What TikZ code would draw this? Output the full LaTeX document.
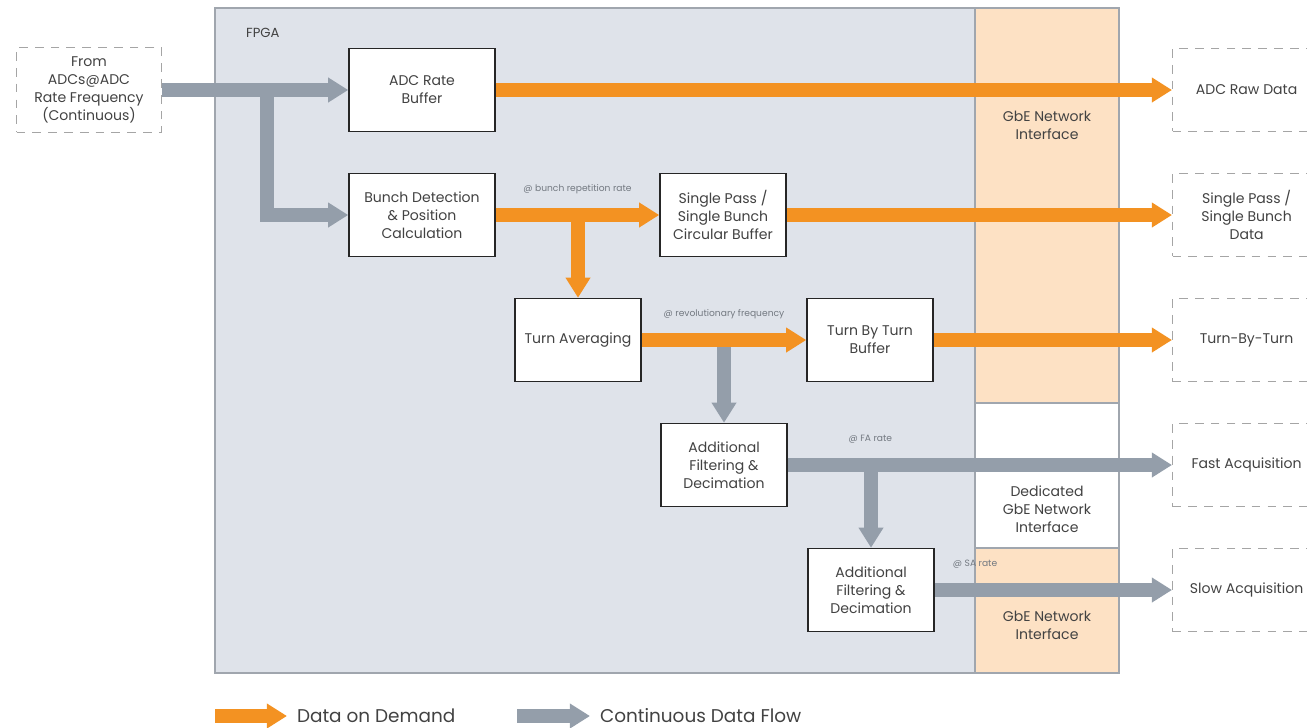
\documentclass[tikz,border=0pt]{standalone}
\usepackage{fontspec}
\setmainfont{Poppins}
\usetikzlibrary{arrows.meta}
\definecolor{fpgabg}{RGB}{223,227,234}
\definecolor{frameline}{RGB}{160,166,174}
\definecolor{gbebg}{RGB}{253,225,196}
\definecolor{ondemand}{RGB}{243,146,34}
\definecolor{contflow}{RGB}{148,158,170}
\definecolor{txt}{RGB}{66,66,66}
\definecolor{ratetxt}{RGB}{115,121,129}
\definecolor{dashgray}{RGB}{165,165,165}
\tikzset{
  block/.style={draw=black!85,fill=white,line width=0.85pt,minimum width=2.52cm,minimum height=1.66cm,align=center,inner sep=1pt,text=txt,font=\fontsize{8}{10.2}\selectfont},
  extbox/.style={draw=dashgray,line width=0.7pt,dash pattern=on 5pt off 4pt,minimum width=2.96cm,minimum height=1.66cm,align=center,text=txt,font=\fontsize{8}{10.2}\selectfont},
  dod/.style={draw=ondemand,line width=7.6pt,-{Triangle[length=11.5pt,width=13.5pt]}},
  cont/.style={draw=contflow,line width=7.6pt,-{Triangle[length=11.5pt,width=13.5pt]}},
  rate/.style={font=\fontsize{5.2}{6}\selectfont,text=ratetxt,inner sep=1pt},
  netif/.style={align=center,text=txt,font=\fontsize{8}{10.2}\selectfont}
}
\begin{document}
\begin{tikzpicture}[x=0.02cm,y=-0.02cm]
\useasboundingbox (0,0) rectangle (1307,727);
% fpga and network interface column
\draw[fill=fpgabg,draw=frameline,line width=0.8pt](215,8)rectangle(975,673);
\draw[fill=gbebg,draw=frameline,line width=0.8pt](975,8)rectangle(1119,403);
\draw[fill=white,draw=frameline,line width=0.8pt](975,403)rectangle(1119,548);
\draw[fill=gbebg,draw=frameline,line width=0.8pt](975,548)rectangle(1119,673);
\node[anchor=west,text=txt,font=\fontsize{7.5}{10}\selectfont](fpga)at(240,33){FPGA};
\node[netif](gbe1)at(1047,125){GbE Network\\Interface};
\node[netif](gbe2)at(1047,509){Dedicated\\GbE Network\\Interface};
\node[netif](gbe3)at(1047,625){GbE Network\\Interface};

% sources and sinks
\node[extbox,minimum width=2.9cm,minimum height=1.7cm](adcin)at(89,90){From\\ADCs@ADC\\Rate Frequency\\(Continuous)};
\node[extbox,anchor=west](rawdata)at(1172,90){ADC Raw Data};
\node[extbox,anchor=west](spdata)at(1172,215){Single Pass /\\Single Bunch\\Data};
\node[extbox,anchor=west](tbtdata)at(1172,340){Turn-By-Turn};
\node[extbox,anchor=west](fastacq)at(1172,465){Fast Acquisition};
\node[extbox,anchor=west](slowacq)at(1172,590){Slow Acquisition};

% processing blocks
\node[block,minimum width=2.92cm](adcbuf)at(422,90){ADC Rate\\Buffer};
\node[block,minimum width=2.92cm](bunch)at(422,215){Bunch Detection\\\& Position\\Calculation};
\node[block](spbuf)at(723,215){Single Pass /\\Single Bunch\\Circular Buffer};
\node[block](avg)at(578,340){Turn Averaging};
\node[block](tbtbuf)at(870,340){Turn By Turn\\Buffer};
\node[block](filta)at(724,465){Additional\\Filtering \&\\Decimation};
\node[block](filtb)at(871,590){Additional\\Filtering \&\\Decimation};

% branches first, main flows on top
\coordinate(split)at(267,90);
\draw[cont,line join=miter](split)|-(bunch.west);
\draw[dod](avg.north|-bunch.east)--(avg.north);
\draw[cont](filta.north|-avg.east)--(filta.north);
\draw[cont](filtb.north|-filta.east)--(filtb.north);

\draw[cont](adcin.east)--(adcbuf.west);
\draw[dod](adcbuf.east)--(rawdata.west);
\draw[dod](bunch.east)--node[rate,midway,above=7pt]{@ bunch repetition rate}(spbuf.west);
\draw[dod](spbuf.east)--(spdata.west);
\draw[dod](avg.east)--node[rate,midway,above=7pt]{@ revolutionary frequency}(tbtbuf.west);
\draw[dod](tbtbuf.east)--(tbtdata.west);
\draw[cont](filta.east)--node[rate,pos=0.215,above=7.5pt]{@ FA rate}(fastacq.west);
\draw[cont](filtb.east)--node[rate,pos=0.17,above=7.5pt]{@ SA rate}(slowacq.west);

% legend
\coordinate(lgdod)at(215,716);
\coordinate(lgcont)at(517,716);
\node[anchor=west,inner sep=5.5pt,text=txt,font=\fontsize{10.5}{12}\selectfont](dodtxt)at(287,716){Data on Demand};
\node[anchor=west,inner sep=5.5pt,text=txt,font=\fontsize{10.5}{12}\selectfont](conttxt)at(590,716){Continuous Data Flow};
\draw[dod](lgdod)--(dodtxt.west);
\draw[cont](lgcont)--(conttxt.west);
\end{tikzpicture}
\end{document}
